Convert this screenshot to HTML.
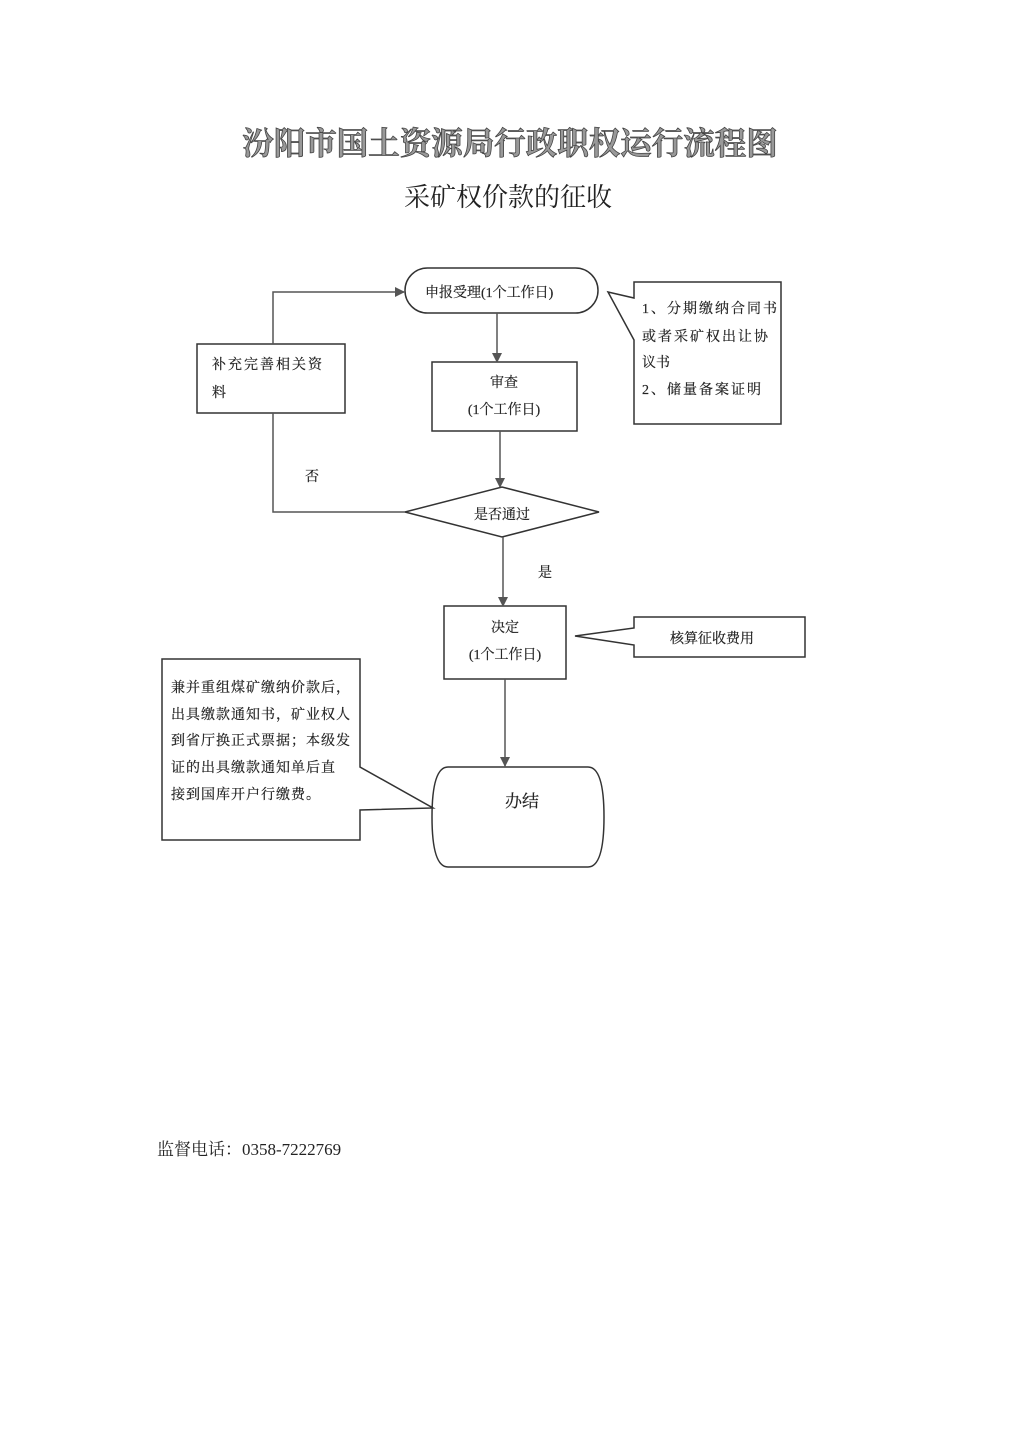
<!DOCTYPE html>
<html><head><meta charset="utf-8"><style>
body{margin:0;background:#fff;}
svg{display:block}
text{font-family:"Liberation Serif","Noto Serif CJK SC","Noto Sans CJK SC",serif;fill:#222}
</style></head><body>
<svg width="1024" height="1448" viewBox="0 0 1024 1448" xmlns="http://www.w3.org/2000/svg">
<defs><marker id="a" markerWidth="10" markerHeight="10" refX="9" refY="5" orient="auto" markerUnits="userSpaceOnUse"><path d="M0,0 L10,5 L0,10 z" fill="#555"/></marker></defs>
<text x="510" y="154" font-size="31.5" font-weight="bold" text-anchor="middle" stroke="#444" stroke-width="0.8" style="fill:#999">汾阳市国土资源局行政职权运行流程图</text>
<text x="508" y="206" font-size="26" text-anchor="middle">采矿权价款的征收</text>
<g fill="none" stroke="#333" stroke-width="1.5">
<rect x="405" y="268" width="193" height="45" rx="22.5"/>
<rect x="432" y="362" width="145" height="69"/>
<path d="M405,512 L502,487 L599,512 L502,537 Z"/>
<rect x="197" y="344" width="148" height="69"/>
<rect x="444" y="606" width="122" height="73"/>
<path d="M448,767 L588,767 Q604,767 604,817 Q604,867 588,867 L448,867 Q432,867 432,817 Q432,767 448,767 Z"/>
<path d="M634,340 L634,424 L781,424 L781,282 L634,282 L634,298 L608,292 Z"/>
<path d="M634,645 L634,657 L805,657 L805,617 L634,617 L634,628 L575,636 Z"/>
<path d="M360,767 L360,659 L162,659 L162,840 L360,840 L360,810 L433,808 Z"/>
</g>
<g stroke="#555" stroke-width="1.5" fill="none">
<line x1="497" y1="313" x2="497" y2="362" marker-end="url(#a)"/>
<line x1="500" y1="431" x2="500" y2="487" marker-end="url(#a)"/>
<line x1="503" y1="537" x2="503" y2="606" marker-end="url(#a)"/>
<line x1="505" y1="679" x2="505" y2="766" marker-end="url(#a)"/>
<polyline points="405,512 273,512 273,413"/>
<polyline points="273,344 273,292 404,292" marker-end="url(#a)"/>
</g>
<g font-size="14" stroke="#222" stroke-width="0.2">
<text x="425" y="297">申报受理(1个工作日)</text>
<text x="504" y="387" text-anchor="middle">审查</text>
<text x="504" y="414" text-anchor="middle">(1个工作日)</text>
<text x="502" y="519" text-anchor="middle">是否通过</text>
<text x="212" y="369" letter-spacing="2">补充完善相关资</text>
<text x="212" y="397">料</text>
<text x="305" y="481">否</text>
<text x="538" y="577">是</text>
<text x="505" y="632" text-anchor="middle">决定</text>
<text x="505" y="659" text-anchor="middle">(1个工作日)</text>
<text x="522" y="807" font-size="17" text-anchor="middle">办结</text>
<text x="642" y="313" letter-spacing="2">1、分期缴纳合同书</text>
<text x="642" y="341" letter-spacing="2">或者采矿权出让协</text>
<text x="642" y="367">议书</text>
<text x="642" y="394" letter-spacing="2">2、储量备案证明</text>
<text x="670" y="643">核算征收费用</text>
<text x="171" y="692" letter-spacing="1">兼并重组煤矿缴纳价款后，</text>
<text x="171" y="719" letter-spacing="1">出具缴款通知书，矿业权人</text>
<text x="171" y="745" letter-spacing="1">到省厅换正式票据；本级发</text>
<text x="171" y="772" letter-spacing="1">证的出具缴款通知单后直</text>
<text x="171" y="799" letter-spacing="1">接到国库开户行缴费。</text>
</g>
<text x="157" y="1155" font-size="17">监督电话：0358-7222769</text>
</svg>
</body></html>
